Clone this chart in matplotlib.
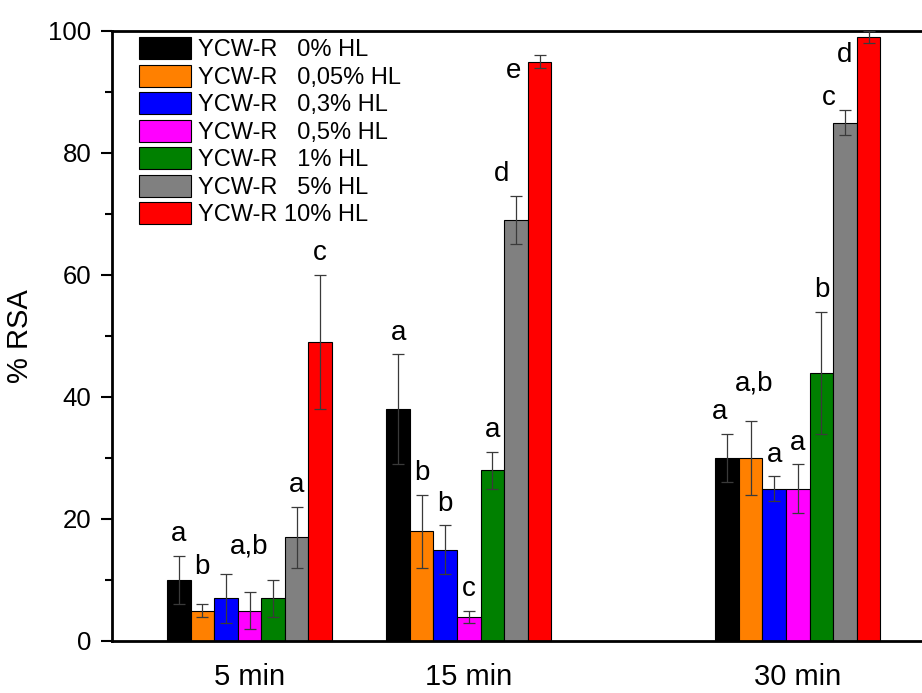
import matplotlib.pyplot as plt
import numpy as np
from matplotlib.ticker import MultipleLocator

plt.rcParams['font.family'] = ['Liberation Sans', 'DejaVu Sans']

times = [5, 15, 30]
time_labels = ["5 min", "15 min", "30 min"]

series_labels = [
    "YCW-R   0% HL",
    "YCW-R   0,05% HL",
    "YCW-R   0,3% HL",
    "YCW-R   0,5% HL",
    "YCW-R   1% HL",
    "YCW-R   5% HL",
    "YCW-R 10% HL",
]
colors = ["#000000", "#ff8000", "#0000ff", "#ff00ff", "#008000", "#808080", "#ff0000"]

# values per series at 5, 15, 30 min
rsa_0 = [10, 38, 30]
rsa_005 = [5, 18, 30]
rsa_03 = [7, 15, 25]
rsa_05 = [5, 4, 25]
rsa_1 = [7, 28, 44]
rsa_5 = [17, 69, 85]
rsa_10 = [49, 95, 99]

err_0 = [4, 9, 4]
err_005 = [1, 6, 6]
err_03 = [4, 4, 2]
err_05 = [3, 1, 4]
err_1 = [3, 3, 10]
err_5 = [5, 4, 2]
err_10 = [11, 1, 1]

letters_0 = ["a", "a", "a"]
letters_005 = ["b", "b", "a,b"]
letters_03 = ["", "b", "a"]
letters_05 = ["a,b", "c", "a"]
letters_1 = ["", "a", "b"]
letters_5 = ["a", "d", "c"]
letters_10 = ["c", "e", "d"]

values = [rsa_0, rsa_005, rsa_03, rsa_05, rsa_1, rsa_5, rsa_10]
errors = [err_0, err_005, err_03, err_05, err_1, err_5, err_10]
letters = [letters_0, letters_005, letters_03, letters_05, letters_1, letters_5, letters_10]

# label nudges: (series, time index) -> (dx in bar widths, dy in % units)
nudges = {(1, 0): (0, 2.6), (3, 0): (0, 4.0),
          (0, 2): (-0.3, 0), (1, 2): (0.15, 2.6),
          (5, 1): (-0.6, 0), (5, 2): (-0.7, -1.5)}
# letters set beside the top of the tallest bars: (dx in bar widths, dy)
beside = {(6, 1): (-1.1, -1.5), (6, 2): (-1.0, -3.0)}

fig = plt.figure(figsize=(9.22, 6.93), dpi=100)
ax = fig.add_axes([112 / 922, 52 / 693, 810 / 922, 610 / 693])

w = 1.075
t = np.array(times, dtype=float)
for i in range(7):
    x = t + (i - 3) * w
    ax.bar(x, values[i], width=w, color=colors[i], edgecolor="black",
           linewidth=0.8, label=series_labels[i], zorder=2)
    ax.errorbar(x, values[i], yerr=errors[i], fmt="none", ecolor="#3a3a3a",
                elinewidth=0.9, capsize=4.5, capthick=0.9, zorder=3)
    for j in range(3):
        lab = letters[i][j]
        if not lab:
            continue
        if (i, j) in beside:
            dx, dy = beside[(i, j)]
            ax.text(x[j] + dx * w, values[i][j] + dy, lab,
                    ha="center", va="center", fontsize=20, zorder=4)
            continue
        dx, dy = nudges.get((i, j), (0, 0))
        ax.text(x[j] + dx * w, values[i][j] + errors[i][j] + 1.4 + dy, lab,
                ha="center", va="bottom", fontsize=20, zorder=4)

ax.set_xlim(-1.27, 35.66)
ax.set_ylim(0, 100)
ax.set_xticks(times)
ax.set_xticklabels(time_labels, fontsize=21)
ax.tick_params(axis="x", length=0, pad=16)
ax.yaxis.set_major_locator(MultipleLocator(20))
ax.yaxis.set_minor_locator(MultipleLocator(10))
ax.tick_params(axis="y", which="major", direction="out", length=8, width=1.5,
               labelsize=18.5, pad=7)
ax.tick_params(axis="y", which="minor", direction="out", length=5, width=1.5)
ax.set_ylabel("% RSA", fontsize=21, labelpad=10)

ax.spines["right"].set_visible(False)
for s in ["left", "bottom", "top"]:
    ax.spines[s].set_linewidth(2)

ax.legend(loc="upper left", bbox_to_anchor=(0.033, 0.99), frameon=False,
          fontsize=17, handlelength=2.2, handleheight=1.05, handletextpad=0.3,
          labelspacing=0.15, borderpad=0, borderaxespad=0)

fig.savefig("out.png", dpi=100)
